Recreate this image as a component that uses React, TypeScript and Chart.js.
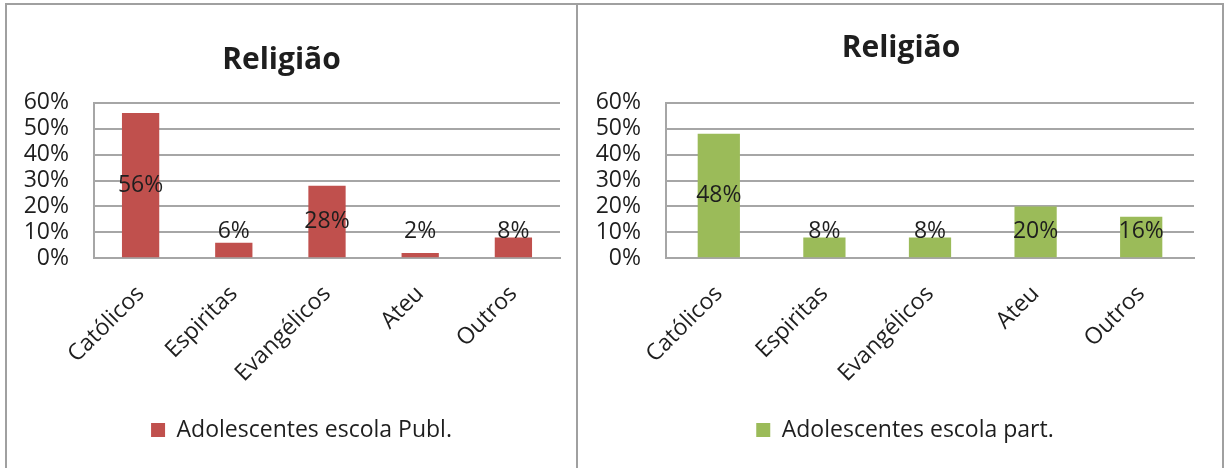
import { useEffect, useRef } from "react";
import { Chart, registerables } from "chart.js";

Chart.register(...registerables);

const categories = ["Católicos", "Espiritas", "Evangélicos", "Ateu", "Outros"];
const publValues = [0.56, 0.06, 0.28, 0.02, 0.08];
const partValues = [0.48, 0.08, 0.08, 0.2, 0.16];
const yTickValues = [0, 0.1, 0.2, 0.3, 0.4, 0.5, 0.6];
const chartTitle = "Religião";
const publLabel = "Adolescentes escola Publ.";
const partLabel = "Adolescentes escola part.";

const FONT = "'Open Sans', 'DejaVu Sans', sans-serif";
const TEXT = "#1e1e1e";
const GRID = "#a6a6a6";

const pct = (v: number) => Math.round(v * 100) + "%";

const barLabels = {
  id: "barLabels",
  afterDatasetsDraw(chart: any) {
    const { ctx } = chart;
    const meta = chart.getDatasetMeta(0);
    const vals = chart.data.datasets[0].data as number[];
    ctx.save();
    ctx.font = `23px ${FONT}`;
    ctx.fillStyle = TEXT;
    ctx.textAlign = "center";
    ctx.textBaseline = "middle";
    meta.data.forEach((bar: any, i: number) => {
      const { x, y, base } = bar.getProps(["x", "y", "base"], true);
      const cy = Math.min((y + base) / 2, base - 26);
      ctx.fillText(pct(vals[i]), x, cy);
    });
    ctx.restore();
  },
};

const shiftBoxes = {
  id: "shiftBoxes",
  afterLayout(chart: any, _args: any, opts: any) {
    const t = chart.titleBlock;
    if (t && opts.title) {
      t.left += opts.title;
      t.right += opts.title;
    }
    const l = chart.legend;
    if (l && opts.legend) {
      l.left += opts.legend;
      l.right += opts.legend;
    }
  },
};

type PanelProps = {
  values: number[];
  color: string;
  label: string;
  left: number;
  width: number;
  titleTop: number;
  titleBottom: number;
  axisWidth: number;
  padRight: number;
  titleShift: number;
  legendShift: number;
};

function BarPanel(p: PanelProps) {
  const ref = useRef<HTMLCanvasElement | null>(null);
  const height = 463;
  useEffect(() => {
    if (!ref.current) return;
    const chart = new Chart(ref.current, {
      type: "bar",
      data: {
        labels: categories,
        datasets: [
          {
            label: p.label,
            data: p.values,
            backgroundColor: p.color,
            borderWidth: 0,
            categoryPercentage: 1,
            barPercentage: 0.4,
          },
        ],
      },
      plugins: [barLabels, shiftBoxes],
      options: {
        responsive: false,
        animation: false,
        events: [],
        layout: { padding: { left: 0, right: p.padRight, top: 0, bottom: 16.5 } },
        plugins: {
          title: {
            display: true,
            text: chartTitle,
            color: TEXT,
            font: { family: FONT, size: 30, weight: "bold" },
            padding: { top: p.titleTop, bottom: p.titleBottom },
          },
          legend: {
            display: true,
            position: "bottom",
            labels: {
              boxWidth: 14,
              boxHeight: 14,
              padding: 10,
              color: TEXT,
              font: { family: FONT, size: 23 },
            },
          },
          tooltip: { enabled: false },
          shiftBoxes: { title: p.titleShift, legend: p.legendShift },
        } as any,
        scales: {
          x: {
            grid: { display: false },
            border: { display: true, color: GRID, width: 2 },
            ticks: {
              minRotation: 45,
              maxRotation: 45,
              autoSkip: false,
              padding: 14,
              color: TEXT,
              font: { family: FONT, size: 23 },
            },
            afterFit: (s: any) => {
              s.height = 150.2;
            },
          },
          y: {
            min: 0,
            max: 0.6,
            afterBuildTicks: (s: any) => {
              s.ticks = yTickValues.map((v) => ({ value: v }));
            },
            ticks: {
              autoSkip: false,
              padding: 25,
              color: TEXT,
              font: { family: FONT, size: 23, lineHeight: 1 },
              callback: (v: any) => pct(Number(v)),
            },
            grid: { color: GRID, lineWidth: 2, drawTicks: false },
            border: { display: true, color: GRID, width: 2 },
            afterFit: (s: any) => {
              s.width = p.axisWidth;
            },
          },
        },
      } as any,
    });
    return () => chart.destroy();
  }, []);
  return (
    <canvas
      ref={ref}
      width={p.width}
      height={height}
      style={{ position: "absolute", left: p.left, top: 5, width: p.width, height }}
    />
  );
}

export default function App() {
  return (
    <div style={{ position: "absolute", left: 0, top: 0, width: 1224, height: 468, overflow: "hidden", background: "#fff" }}>
      <div
        style={{
          position: "absolute",
          left: 5,
          top: 3,
          width: 1215,
          height: 480,
          borderTop: `2px solid #a0a0a0`,
          borderLeft: `2px solid #a0a0a0`,
          borderRight: `2px solid #a0a0a0`,
        }}
      />
      <div style={{ position: "absolute", left: 576, top: 3, width: 2, height: 480, background: "#a0a0a0" }} />
      <BarPanel
        values={publValues}
        color="#c0504d"
        label={publLabel}
        left={7}
        width={569}
        titleTop={37}
        titleBottom={24.7}
        axisWidth={87}
        padRight={16}
        titleShift={-2}
        legendShift={18}
      />
      <BarPanel
        values={partValues}
        color="#9bbb59"
        label={partLabel}
        left={578}
        width={643}
        titleTop={25}
        titleBottom={36.7}
        axisWidth={88}
        padRight={27}
        titleShift={15}
        legendShift={19}
      />
    </div>
  );
}
